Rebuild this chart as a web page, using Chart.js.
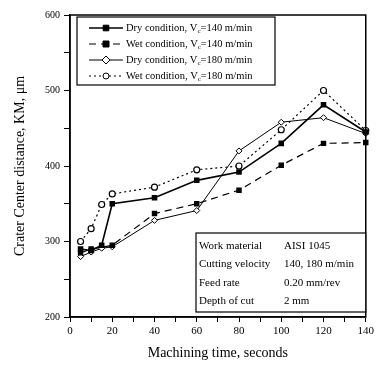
<!DOCTYPE html>
<html>
<head>
<meta charset="utf-8">
<script src="https://cdn.jsdelivr.net/npm/chart.js@4"></script>
<style>
  html, body { margin: 0; padding: 0; background: #fff; }
  #wrap { width: 377px; height: 366px; }
</style>
</head>
<body>
<div id="wrap"><canvas id="myChart" width="377" height="366"></canvas></div>
<script>
// machining time (s)
const times = [5, 10, 15, 20, 40, 60, 80, 100, 120, 140];
// crater center distance KM (um)
const dry140 = [290, 288, 295, 350, 358, 381, 392, 430, 481, 445];
const wet140 = [285, 290, null, 295, 337, 350, 368, 401, 430, 431];
const dry180 = [280, 286, 291, 293, 328, 341, 420, 458, 464, 443];
const wet180 = [300, 317, 349, 363, 372, 395, 400, 448, 500, 447];

const seriesNames = ["Dry condition, V", "Wet condition, V", "Dry condition, V", "Wet condition, V"];
const seriesSpeeds = ["=140 m/min", "=140 m/min", "=180 m/min", "=180 m/min"];

const infoLabels = ["Work material", "Cutting velocity", "Feed rate", "Depth of cut"];
const infoValues = ["AISI 1045", "140, 180 m/min", "0.20 mm/rev", "2 mm"];

const xTicks = [0, 20, 40, 60, 80, 100, 120, 140];
const yTicks = [200, 300, 400, 500, 600];

const FONT = "'Liberation Serif', 'DejaVu Serif', serif";

function pts(arr) {
  return times.map((t, i) => ({ x: t, y: arr[i] }));
}

// box around plot + legend + info box
const extras = {
  id: "extras",
  afterDraw(chart) {
    const ctx = chart.ctx;
    const a = chart.chartArea;
    ctx.save();
    ctx.strokeStyle = "#000";
    ctx.lineWidth = 1.5;
    ctx.strokeRect(a.left, a.top, a.right - a.left, a.bottom - a.top);

    // legend box
    const lx = a.left + 7, ly = a.top + 2, lw = 198, lh = 68;
    ctx.fillStyle = "#fff";
    ctx.fillRect(lx, ly, lw, lh);
    ctx.lineWidth = 1.2;
    ctx.strokeRect(lx, ly, lw, lh);
    chart.data.datasets.forEach((ds, i) => {
      const y = ly + 11 + i * 16;
      const x0 = lx + 12, x1 = lx + 46;
      ctx.strokeStyle = "#000";
      ctx.lineWidth = ds.borderWidth;
      ctx.setLineDash(ds.borderDash || []);
      ctx.beginPath();
      ctx.moveTo(x0, y);
      ctx.lineTo(x1, y);
      ctx.stroke();
      ctx.setLineDash([]);
      const cx = (x0 + x1) / 2;
      const r = ds.pointRadius;
      ctx.fillStyle = ds.pointBackgroundColor;
      ctx.lineWidth = 1;
      ctx.beginPath();
      if (ds.pointStyle === "rect") {
        ctx.rect(cx - r, y - r, 2 * r, 2 * r);
      } else if (ds.pointStyle === "rectRot") {
        ctx.moveTo(cx, y - r - 1); ctx.lineTo(cx + r + 1, y);
        ctx.lineTo(cx, y + r + 1); ctx.lineTo(cx - r - 1, y); ctx.closePath();
      } else {
        ctx.arc(cx, y, r, 0, Math.PI * 2);
      }
      ctx.fill();
      ctx.stroke();
      ctx.fillStyle = "#000";
      ctx.font = "10.5px " + FONT;
      ctx.textBaseline = "middle";
      ctx.textAlign = "left";
      let tx = x1 + 3;
      ctx.fillText(seriesNames[i], tx, y);
      tx += ctx.measureText(seriesNames[i]).width;
      ctx.font = "7px " + FONT;
      ctx.fillText("c", tx, y + 3);
      tx += ctx.measureText("c").width;
      ctx.font = "10.5px " + FONT;
      ctx.fillText(seriesSpeeds[i], tx, y);
    });

    // info box
    const bx = 196, by = 233, bw = a.right - 196, bh = 79;
    ctx.fillStyle = "#fff";
    ctx.fillRect(bx, by, bw, bh);
    ctx.strokeStyle = "#000";
    ctx.lineWidth = 1.2;
    ctx.strokeRect(bx, by, bw, bh);
    ctx.fillStyle = "#000";
    ctx.font = "11px " + FONT;
    ctx.textBaseline = "middle";
    infoLabels.forEach((t, i) => {
      const y = by + 13 + i * 18.5;
      ctx.fillText(t, bx + 3, y);
      ctx.fillText(infoValues[i], 284, y);
    });
    ctx.restore();
  }
};

const ctx = document.getElementById("myChart");
const myChart = new Chart(ctx, {
  type: "line",
  data: {
    datasets: [
      {
        label: "Dry 140",
        data: pts(dry140),
        borderColor: "#000",
        borderWidth: 1.6,
        pointStyle: "rect",
        pointRadius: 2.8,
        pointBackgroundColor: "#000",
        pointBorderColor: "#000",
      },
      {
        label: "Wet 140",
        data: pts(wet140),
        borderColor: "#000",
        borderWidth: 1.2,
        borderDash: [7, 5],
        pointStyle: "rect",
        pointRadius: 3,
        pointBackgroundColor: "#000",
        pointBorderColor: "#000",
      },
      {
        label: "Dry 180",
        data: pts(dry180),
        borderColor: "#000",
        borderWidth: 1,
        pointStyle: "rectRot",
        pointRadius: 3,
        pointBackgroundColor: "#fff",
        pointBorderColor: "#000",
      },
      {
        label: "Wet 180",
        data: pts(wet180),
        borderColor: "#000",
        borderWidth: 1.2,
        borderDash: [2, 3],
        pointStyle: "circle",
        pointRadius: 3,
        pointBackgroundColor: "#fff",
        pointBorderColor: "#000",
      },
    ],
  },
  options: {
    responsive: false,
    animation: false,
    spanGaps: true,
    clip: false,
    layout: { padding: { top: 15, right: 11, left: 0, bottom: 0 } },
    plugins: { legend: { display: false }, tooltip: { enabled: false } },
    scales: {
      x: {
        type: "linear",
        min: 0,
        max: 140,
        grid: { drawOnChartArea: false, color: "#000", tickLength: 5, tickColor: "#000" },
        border: { color: "#000", width: 1.5 },
        ticks: {
          stepSize: 10,
          autoSkip: false,
          maxRotation: 0,
          color: "#000",
          font: { family: FONT, size: 11 },
          padding: 3,
          callback: (v) => (xTicks.includes(v) ? v : ""),
        },
        title: {
          display: true,
          text: "Machining time, seconds",
          color: "#000",
          font: { family: FONT, size: 14 },
          padding: { top: 0 },
        },
        afterFit(s) { s.height = 49; },
      },
      y: {
        min: 200,
        max: 600,
        grid: { drawOnChartArea: false, color: "#000", tickLength: 6, tickColor: "#000" },
        border: { color: "#000", width: 1.5 },
        ticks: {
          stepSize: 50,
          autoSkip: false,
          color: "#000",
          font: { family: FONT, size: 10 },
          padding: 4,
          callback: (v) => (yTicks.includes(v) ? v : ""),
        },
        title: {
          display: true,
          text: "Crater Center distance, KM, \u03bcm",
          color: "#000",
          font: { family: FONT, size: 14 },
          padding: { top: 12, bottom: 4 },
        },
        afterFit(s) { s.width = 70; },
      },
    },
  },
  plugins: [extras],
});
</script>
</body>
</html>
